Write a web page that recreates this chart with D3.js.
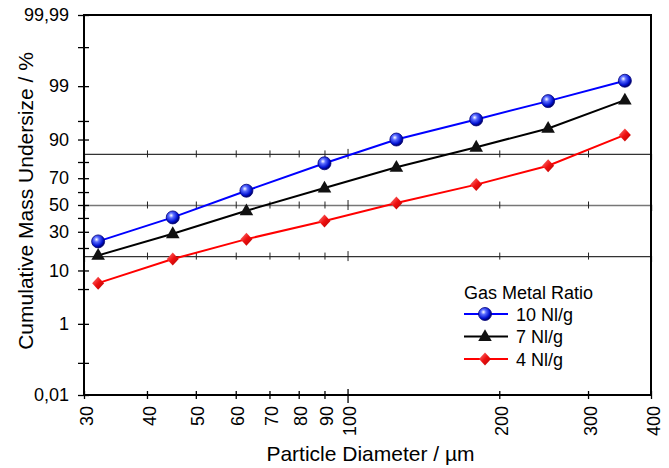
<!DOCTYPE html>
<html>
<head>
<meta charset="utf-8">
<script src="https://cdn.jsdelivr.net/npm/d3@7"></script>
<style>
  body { margin: 0; background: #fff; }
  text { font-family: "Liberation Sans", Arial, sans-serif; fill: #000; }
</style>
</head>
<body>
<svg class="chart"></svg>
<script>
// Sieve sizes (µm) and cumulative undersize (%) per gas/metal ratio
var sizes = [32, 45, 63, 90, 125, 180, 250, 355];
var ratio10 = [23.8, 40.4, 61, 79.3, 90, 95.3, 97.9, 99.25];
var ratio7 = [16.2, 28.7, 45.5, 63, 77, 87.1, 93.3, 98.0];
var ratio4 = [6.3, 14.5, 25.2, 37.7, 51.6, 65.5, 77.9, 91.5];
var seriesNames = ["10 Nl/g", "7 Nl/g", "4 Nl/g"];

var xTicks = [30, 40, 50, 60, 70, 80, 90, 100, 200, 300, 400];
var yTicks = [0.01, 0.1, 1, 5, 10, 20, 30, 40, 50, 60, 70, 80, 90, 95, 99, 99.9, 99.99];
var yLabels = [0.01, 1, 10, 30, 50, 70, 90, 99, 99.99];
var refLines = [15.87, 50, 84.13];

var width = 669, height = 468;
var plotLeft = 84, plotRight = 651, plotTop = 15, plotBottom = 395;

var svg = d3.select(".chart")
    .attr("width", width)
    .attr("height", height);

// inverse normal cdf (Acklam) for the probability axis
function probit(p) {
    var a = [-3.969683028665376e+01, 2.209460984245205e+02, -2.759285104469687e+02, 1.383577518672690e+02, -3.066479806614716e+01, 2.506628277459239e+00];
    var b = [-5.447609879822406e+01, 1.615858368580409e+02, -1.556989798598866e+02, 6.680131188771972e+01, -1.328068155288572e+01];
    var c = [-7.784894002430293e-03, -3.223964580411365e-01, -2.400758277161838e+00, -2.549732539343734e+00, 4.374664141464968e+00, 2.938163982698783e+00];
    var d = [7.784695709041462e-03, 3.224671290700398e-01, 2.445134137142996e+00, 3.754408661907416e+00];
    var q, r;
    if (p < 0.02425) {
        q = Math.sqrt(-2 * Math.log(p));
        return (((((c[0]*q + c[1])*q + c[2])*q + c[3])*q + c[4])*q + c[5]) / ((((d[0]*q + d[1])*q + d[2])*q + d[3])*q + 1);
    }
    if (p <= 1 - 0.02425) {
        q = p - 0.5; r = q * q;
        return (((((a[0]*r + a[1])*r + a[2])*r + a[3])*r + a[4])*r + a[5])*q / (((((b[0]*r + b[1])*r + b[2])*r + b[3])*r + b[4])*r + 1);
    }
    q = Math.sqrt(-2 * Math.log(1 - p));
    return -(((((c[0]*q + c[1])*q + c[2])*q + c[3])*q + c[4])*q + c[5]) / ((((d[0]*q + d[1])*q + d[2])*q + d[3])*q + 1);
}

var xScale = d3.scaleLog().domain([30, 400]).range([plotLeft, plotRight]);
var pScale = d3.scaleLinear().domain([probit(0.0001), probit(0.9999)]).range([plotBottom, plotTop]);
function yScale(v) { return pScale(probit(v / 100)); }

function fmt(v) { return String(v).replace(".", ","); }

// gradients for the markers
var defs = svg.append("defs");
var ball = defs.append("radialGradient").attr("id", "ball")
    .attr("cx", "38%").attr("cy", "35%").attr("r", "65%");
ball.append("stop").attr("offset", "0%").attr("stop-color", "#ffffff");
ball.append("stop").attr("offset", "30%").attr("stop-color", "#5a6cff");
ball.append("stop").attr("offset", "75%").attr("stop-color", "#0010d0");
ball.append("stop").attr("offset", "100%").attr("stop-color", "#000060");
var gem = defs.append("linearGradient").attr("id", "gem")
    .attr("x1", "0%").attr("y1", "0%").attr("x2", "100%").attr("y2", "100%");
gem.append("stop").attr("offset", "0%").attr("stop-color", "#ff8080");
gem.append("stop").attr("offset", "50%").attr("stop-color", "#ee1010");
gem.append("stop").attr("offset", "100%").attr("stop-color", "#b00000");

// reference lines at 15.87 / 50 / 84.13 %, each with x ticks
refLines.forEach(function(p) {
    var g = svg.append("g")
        .attr("transform", "translate(0," + yScale(p) + ")")
        .call(d3.axisBottom(xScale).tickValues(xTicks.slice(1, -1)).tickFormat(""));
    g.select(".domain").attr("stroke", p === 50 ? "#777" : "#333").attr("stroke-width", p === 50 ? 1.6 : 1.2);
    g.selectAll(".tick line")
        .attr("stroke", "#222")
        .attr("y1", function(d) { return d === 100 ? -5 : -3.5; })
        .attr("y2", function(d) { return d === 100 ? 5 : 3.5; });
});

// frame
svg.append("rect")
    .attr("x", plotLeft).attr("y", plotTop)
    .attr("width", plotRight - plotLeft).attr("height", plotBottom - plotTop)
    .attr("fill", "none").attr("stroke", "#000").attr("stroke-width", 2);

// y axis
var yAxis = svg.append("g")
    .attr("transform", "translate(" + plotLeft + ",0)")
    .call(d3.axisLeft(pScale)
        .tickValues(yTicks.map(function(v) { return probit(v / 100); }))
        .tickFormat(function(d, i) { return yLabels.indexOf(yTicks[i]) >= 0 ? fmt(yTicks[i]) : ""; }));
yAxis.select(".domain").remove();
yAxis.selectAll(".tick line").attr("x1", 5).attr("x2", -6).attr("stroke-width", 1.3);
yAxis.selectAll(".tick text").attr("x", -15)
    .style("font-size", "18px")
    .style("font-family", "'Liberation Sans', Arial, sans-serif");

// x axis
var xAxis = svg.append("g")
    .attr("transform", "translate(0," + plotBottom + ")")
    .call(d3.axisBottom(xScale).tickValues(xTicks).tickFormat(d3.format("d")));
xAxis.select(".domain").remove();
xAxis.selectAll(".tick line")
    .attr("y1", function(d) { return d === 100 ? -6 : -4; })
    .attr("y2", function(d) { return d === 100 ? 8 : 4; })
    .attr("stroke-width", 1.3);
xAxis.selectAll(".tick text")
    .attr("transform", "rotate(-90)")
    .attr("x", -11).attr("y", 0).attr("dy", "0.45em")
    .attr("text-anchor", "end")
    .style("font-size", "18px")
    .style("font-family", "'Liberation Sans', Arial, sans-serif");

// axis titles
svg.append("text")
    .attr("x", (plotLeft + plotRight) / 2 + 3)
    .attr("y", 461)
    .attr("text-anchor", "middle")
    .style("font-size", "21px")
    .text("Particle Diameter / µm");

svg.append("text")
    .attr("transform", "translate(33," + ((plotTop + plotBottom) / 2 - 4) + ") rotate(-90)")
    .attr("text-anchor", "middle")
    .style("font-size", "21px")
    .text("Cumulative Mass Undersize / %");

// series
var series = [
    { name: seriesNames[0], values: ratio10, color: "#0000ff", shape: "ball" },
    { name: seriesNames[1], values: ratio7, color: "#000000", shape: "tri" },
    { name: seriesNames[2], values: ratio4, color: "#ff0000", shape: "gem" }
];

var line = d3.line()
    .x(function(d) { return xScale(d[0]); })
    .y(function(d) { return yScale(d[1]); });

function marker(g, shape) {
    if (shape === "ball") {
        g.append("circle").attr("r", 6.5)
            .attr("fill", "url(#ball)").attr("stroke", "#00007a").attr("stroke-width", 0.8);
    } else if (shape === "tri") {
        g.append("path").attr("d", d3.symbol().type(d3.symbolTriangle).size(80))
            .attr("transform", "translate(0,0.5)")
            .attr("fill", "#111");
    } else {
        g.append("path").attr("d", "M0,-6.5L6,0L0,6.5L-6,0Z")
            .attr("fill", "url(#gem)");
    }
}

series.forEach(function(s) {
    var pts = sizes.map(function(x, i) { return [x, s.values[i]]; });
    svg.append("path")
        .datum(pts)
        .attr("d", line)
        .attr("fill", "none")
        .attr("stroke", s.color)
        .attr("stroke-width", 2);
    svg.selectAll(".pt-" + s.shape)
        .data(pts)
        .enter().append("g")
        .attr("class", "pt-" + s.shape)
        .attr("transform", function(d) { return "translate(" + xScale(d[0]) + "," + yScale(d[1]) + ")"; })
        .each(function() { marker(d3.select(this), s.shape); });
});

// legend
var legend = svg.append("g").attr("transform", "translate(464,292)");
legend.append("text")
    .attr("x", 0).attr("y", 6.5)
    .style("font-size", "18px")
    .text("Gas Metal Ratio");

series.forEach(function(s, i) {
    var row = legend.append("g").attr("transform", "translate(0," + (22 + i * 22.5) + ")");
    row.append("line")
        .attr("x1", 0).attr("x2", 44)
        .attr("stroke", s.color).attr("stroke-width", 2);
    var m = row.append("g").attr("transform", "translate(21,0)");
    marker(m, s.shape);
    row.append("text")
        .attr("x", 52).attr("y", 6.5)
        .style("font-size", "18px")
        .text(s.name);
});
</script>
</body>
</html>
